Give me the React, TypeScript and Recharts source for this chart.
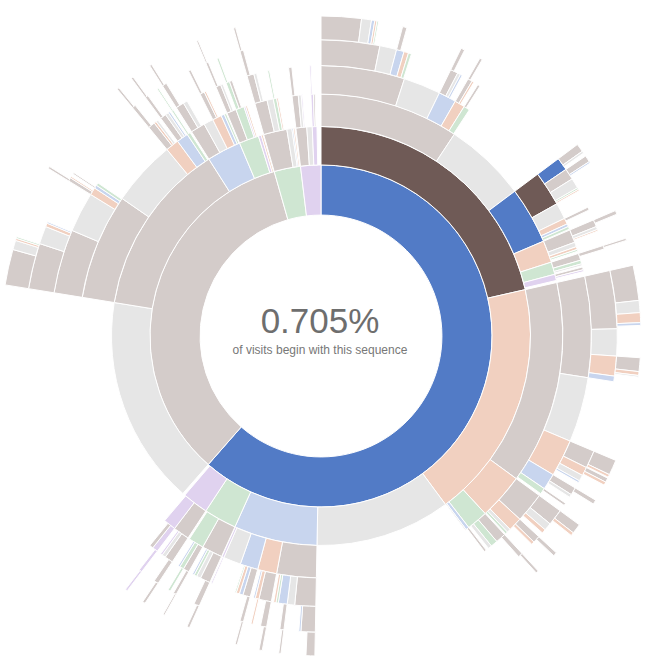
import React from "react";
import { PieChart, Pie, Cell } from "recharts";

// Sequence codes: H = home, P = product, S = search, A = account, O = other, E = end
type Seg = [string, number]; // [path, visits]

const ring1: Seg[] = [["H", 22150], ["P", 12300], ["A", 900], ["O", 690]];

const ring2: Seg[] = [
  ["H-P", 7730], ["H-S", 6640], ["H-E", 3760], ["H-H", 2320], ["H-A", 910], ["H-O", 720],
  ["P-E", 5800], ["P-P", 4850], ["P-H", 950], ["P-A", 550], ["P-O", 80], ["P-S", 50],
  ["A-P", 650], ["A-E", 140], ["A-H", 40], ["A-S", 40],
  ["O-P", 300], ["O-E", 150], ["O-O", 130],
];

const ring3: Seg[] = [
  ["H-P-P", 3350], ["H-P-E", 1980], ["H-P-H", 1370], ["H-P-S", 530], ["H-P-A", 300], ["H-P-O", 150],
  ["H-S-P", 4900], ["H-S-S", 1110], ["H-S-A", 510], ["H-S-H", 80], ["H-S-E", 30],
  ["H-H-P", 950], ["H-H-S", 460], ["H-H-H", 430], ["H-H-E", 420], ["H-H-O", 50],
  ["H-A-P", 500], ["H-A-A", 370],
  ["H-O-P", 390], ["H-O-O", 300],
  ["P-P-P", 2550], ["P-P-E", 1580], ["P-P-S", 320], ["P-P-H", 280], ["P-P-A", 80],
  ["P-H-P", 350], ["P-H-E", 230], ["P-H-S", 220], ["P-H-H", 80], ["P-H-A", 50],
  ["P-A-P", 230], ["P-A-A", 200], ["P-A-O", 40], ["P-A-S", 40],
  ["A-P-P", 300], ["A-P-E", 150], ["A-P-A", 80], ["A-P-S", 40],
  ["O-P-P", 150], ["O-P-E", 70], ["O-P-O", 30],
  ["O-O-O", 60], ["O-O-P", 40],
];

const ring4: Seg[] = [
  ["H-P-P-P", 1800], ["H-P-P-E", 800], ["H-P-P-H", 380], ["H-P-P-S", 220], ["H-P-P-A", 130],
  ["H-P-H-P", 750], ["H-P-H-E", 350], ["H-P-H-S", 130], ["H-P-H-H", 60], ["H-P-H-A", 60],
  ["H-P-S-P", 280], ["H-P-S-E", 100], ["H-P-S-S", 60], ["H-P-S-A", 40],
  ["H-P-A-P", 150], ["H-P-A-A", 80], ["H-P-A-E", 40],
  ["H-P-O-P", 60], ["H-P-O-O", 40],
  ["H-S-P-P", 2170], ["H-S-P-E", 1400], ["H-S-P-S", 800], ["H-S-P-H", 350], ["H-S-P-A", 130],
  ["H-S-S-P", 650], ["H-S-S-S", 300], ["H-S-S-E", 80], ["H-S-S-A", 50],
  ["H-S-A-P", 220], ["H-S-A-A", 150], ["H-S-A-E", 80],
  ["H-S-H-P", 50],
  ["H-H-P-P", 450], ["H-H-P-E", 160], ["H-H-P-H", 190], ["H-H-P-A", 50], ["H-H-P-S", 50],
  ["H-H-S-P", 270], ["H-H-S-S", 80], ["H-H-S-H", 40],
  ["H-H-H-P", 160], ["H-H-H-H", 80], ["H-H-H-S", 70], ["H-H-H-A", 30],
  ["H-H-O-O", 30],
  ["H-A-P-P", 220], ["H-A-P-E", 90], ["H-A-P-A", 60], ["H-A-P-H", 40],
  ["H-A-A-P", 130], ["H-A-A-A", 90], ["H-A-A-H", 40],
  ["H-O-P-P", 180], ["H-O-P-E", 80], ["H-O-P-O", 40],
  ["H-O-O-O", 120], ["H-O-O-P", 80],
  ["P-P-P-P", 1380], ["P-P-P-E", 860], ["P-P-P-S", 160], ["P-P-P-H", 70], ["P-P-P-A", 60],
  ["P-P-S-P", 150], ["P-P-S-S", 50], ["P-P-S-E", 50],
  ["P-P-H-P", 130], ["P-P-H-E", 70], ["P-P-H-H", 40],
  ["P-P-A-A", 40],
  ["P-H-P-P", 180], ["P-H-P-E", 90],
  ["P-H-S-P", 100], ["P-H-S-S", 40],
  ["P-A-P-P", 110], ["P-A-P-E", 50],
  ["P-A-A-A", 80], ["P-A-A-P", 60],
  ["A-P-P-P", 150], ["A-P-P-E", 60],
  ["A-P-A-A", 40],
  ["O-P-P-P", 70],
  ["O-O-O-O", 30],
];

const ring5: Seg[] = [
  ["H-P-P-P-P", 1150], ["H-P-P-P-E", 330], ["H-P-P-P-H", 150], ["H-P-P-P-S", 90], ["H-P-P-P-A", 60],
  ["H-P-P-H-P", 150], ["H-P-P-H-E", 60], ["H-P-P-H-H", 40],
  ["H-P-P-S-P", 90], ["H-P-P-S-S", 40],
  ["H-P-P-A-P", 50],
  ["H-P-H-P-H", 254], ["H-P-H-P-P", 220], ["H-P-H-P-E", 200], ["H-P-H-P-A", 35], ["H-P-H-P-S", 30],
  ["H-P-H-S-P", 60],
  ["H-P-S-P-P", 140], ["H-P-S-P-E", 60], ["H-P-S-P-S", 30],
  ["H-P-A-P-P", 70],
  ["H-S-P-P-P", 1140], ["H-S-P-P-E", 530], ["H-S-P-P-S", 390], ["H-S-P-P-H", 110],
  ["H-S-P-S-P", 350], ["H-S-P-S-S", 170], ["H-S-P-S-E", 120], ["H-S-P-S-H", 40],
  ["H-S-P-H-P", 150], ["H-S-P-H-E", 60],
  ["H-S-P-A-P", 50],
  ["H-S-S-P-P", 320], ["H-S-S-P-E", 150], ["H-S-S-P-S", 80],
  ["H-S-S-S-P", 140], ["H-S-S-S-S", 60],
  ["H-S-A-P-P", 90],
  ["H-H-P-P-P", 280], ["H-H-P-P-H", 40],
  ["H-H-P-H-P", 80],
  ["H-H-S-P-P", 120],
  ["H-H-S-S-S", 40],
  ["H-H-H-P-P", 70],
  ["H-A-P-P-P", 110],
  ["H-A-A-P-P", 60],
  ["H-A-A-A-A", 50],
  ["H-O-P-P-P", 90],
  ["H-O-O-O-O", 60],
  ["P-P-P-P-P", 900], ["P-P-P-P-E", 350], ["P-P-P-P-S", 70], ["P-P-P-P-H", 30],
  ["P-P-P-S-P", 70], ["P-P-P-S-S", 30],
  ["P-P-P-H-P", 30],
  ["P-P-S-P-P", 70],
  ["P-P-H-P-P", 60],
  ["P-P-A-A-A", 30],
  ["P-H-P-P-P", 90],
  ["P-H-S-P-P", 50],
  ["P-A-P-P-P", 50],
  ["P-A-A-A-A", 40],
  ["A-P-P-P-P", 70],
];

const ring6: Seg[] = [
  ["H-P-P-P-P-P", 730], ["H-P-P-P-P-E", 180], ["H-P-P-P-P-H", 60], ["H-P-P-P-P-S", 40], ["H-P-P-P-P-A", 30],
  ["H-P-P-P-H-P", 80],
  ["H-P-P-H-P-P", 70],
  ["H-P-P-S-P-P", 50],
  ["H-P-H-P-H-P", 150], ["H-P-H-P-H-E", 40],
  ["H-P-H-P-P-P", 120], ["H-P-H-P-P-H", 30],
  ["H-P-S-P-P-P", 70],
  ["H-P-A-P-P-P", 40],
  ["H-S-P-P-P-P", 640], ["H-S-P-P-P-E", 220], ["H-S-P-P-P-S", 180], ["H-S-P-P-P-H", 50],
  ["H-S-P-P-S-P", 250], ["H-S-P-P-S-S", 70], ["H-S-P-P-S-E", 30],
  ["H-S-P-S-P-P", 280], ["H-S-P-S-P-S", 50],
  ["H-S-P-S-S-P", 80], ["H-S-P-S-S-S", 60],
  ["H-S-P-H-P-P", 80],
  ["H-S-S-P-P-P", 180], ["H-S-S-P-P-S", 60],
  ["H-S-S-S-P-P", 70],
  ["H-S-A-P-P-P", 50],
  ["H-H-P-P-P-P", 160],
  ["H-H-P-H-P-P", 40],
  ["H-H-S-P-P-P", 60],
  ["H-H-H-P-P-P", 40],
  ["H-A-P-P-P-P", 50],
  ["H-A-A-P-P-P", 30],
  ["H-O-P-P-P-P", 50],
  ["H-O-O-O-O-O", 40],
  ["P-P-P-P-P-P", 650], ["P-P-P-P-P-E", 170], ["P-P-P-P-P-S", 40], ["P-P-P-P-P-A", 30],
  ["P-P-P-S-P-P", 40],
  ["P-P-S-P-P-P", 40],
  ["P-P-H-P-P-P", 40],
  ["P-H-P-P-P-P", 40],
  ["P-A-P-P-P-P", 30],
  ["A-P-P-P-P-P", 40],
];

const highlighted = "H-P-H-P-H";
const centerCaption = "of visits begin with this sequence";

const fullColors: Record<string, string> = {
  H: "#527bc6", P: "#6f5a56", S: "#de783b", A: "#6ab975", O: "#a173d1", E: "#bbbbbb",
};
const fadedColors: Record<string, string> = {
  H: "#c8d5ee", P: "#d4ccca", S: "#f1d0c0", A: "#cfe6d2", O: "#e0d2ef", E: "#e6e6e6",
};

const rings = [ring1, ring2, ring3, ring4, ring5, ring6];
const total = ring1.reduce((s, d) => s + d[1], 0);

type Slice = { name: string; value: number; fill: string; gap: boolean };

function buildRings(): Slice[][] {
  const starts: Record<string, number> = {};
  return rings.map((ring) => {
    const cursor: Record<string, number> = {};
    const placed = ring.map(([path, v]) => {
      const idx = path.lastIndexOf("-");
      const parent = idx >= 0 ? path.slice(0, idx) : "";
      const base = parent ? starts[parent] ?? 0 : 0;
      const off = cursor[parent] ?? 0;
      cursor[parent] = off + v;
      starts[path] = base + off;
      return { path, s: base + off, v };
    });
    placed.sort((a, b) => a.s - b.s);
    const out: Slice[] = [];
    let pos = 0;
    placed.forEach((p) => {
      if (p.s - pos > 1e-6) out.push({ name: "gap", value: p.s - pos, fill: "none", gap: true });
      const last = p.path[p.path.length - 1];
      const hl = highlighted === p.path || highlighted.startsWith(p.path + "-");
      out.push({ name: p.path, value: p.v, fill: hl ? fullColors[last] : fadedColors[last], gap: false });
      pos = p.s + p.v;
    });
    if (total - pos > 1e-6) out.push({ name: "gap", value: total - pos, fill: "none", gap: true });
    return out;
  });
}

const W = 648;
const H = 661;
const CX = 321;
const CY = 336;
const R = 320;

export default function App() {
  const data = buildRings();
  const radii = [1, 2, 3, 4, 5, 6, 7].map((k) => R * Math.sqrt(k / 7));
  const hlValue = ring5.find((d) => d[0] === highlighted)?.[1] ?? 0;
  const pct = ((hlValue / total) * 100).toFixed(3) + "%";
  return (
    <div style={{ position: "absolute", left: 0, top: 0, width: W, height: H, background: "#fff" }}>
      <PieChart width={W} height={H} margin={{ top: 0, right: 0, bottom: 0, left: 0 }}>
        {data.map((d, i) => (
          <Pie
            key={i}
            data={d}
            dataKey="value"
            nameKey="name"
            cx={CX}
            cy={CY}
            innerRadius={radii[i]}
            outerRadius={radii[i + 1]}
            startAngle={90}
            endAngle={-270}
            stroke="#fff"
            strokeWidth={1}
            isAnimationActive={false}
          >
            {d.map((s, j) => (
              <Cell key={j} fill={s.fill} stroke={s.gap ? "none" : "#fff"} />
            ))}
          </Pie>
        ))}
      </PieChart>
      <svg width={W} height={H} style={{ position: "absolute", left: 0, top: 0, pointerEvents: "none" }}>
        <text x={320} y={333} textAnchor="middle" fontFamily="'Liberation Sans', Arial, sans-serif" fontSize={35} fill="#6e6e6e">
          {pct}
        </text>
        <text x={320} y={354} textAnchor="middle" fontFamily="'Liberation Sans', Arial, sans-serif" fontSize={12} fill="#777">
          {centerCaption}
        </text>
      </svg>
    </div>
  );
}
